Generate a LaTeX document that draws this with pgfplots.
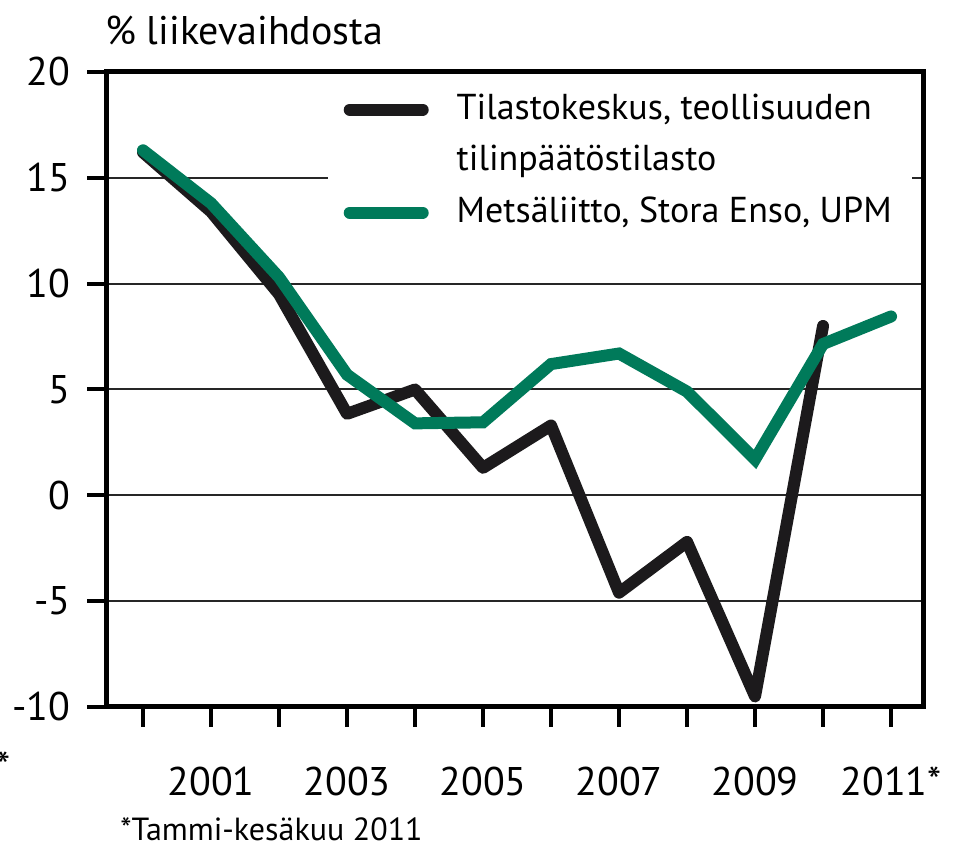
\documentclass[border=0pt]{standalone}
\usepackage{fontspec}
\setmainfont{PT Sans}
\usepackage{pgfplots}
\pgfplotsset{compat=1.18}
\definecolor{mgreen}{RGB}{0,122,90}
\definecolor{mblack}{RGB}{28,26,28}
\begin{document}
\fontsize{20}{24}\selectfont
\begin{tikzpicture}
\path[use as bounding box] (-53.5pt,-71.5pt) rectangle (423pt,353.5pt);
\begin{axis}[
  at={(0,0)}, anchor=south west,
  scale only axis, width=408pt, height=317.5pt,
  xmin=1999.47, xmax=2011.47, ymin=-10, ymax=20,
  axis line style={line width=2.5pt},
  tick align=outside,
  xtick pos=bottom, ytick pos=left,
  major tick length=10pt,
  tick style={line width=2pt, black},
  xtick={2000,2001,...,2011},
  xticklabels={,2001,,2003,,2005,,2007,,2009,,2011*},
  ytick={-10,-5,0,5,10,15,20},
  yticklabels={-10,-5,0,5,10,15,20},
  ymajorgrids,
  grid style={line width=1pt, black!85},
  ticklabel style={font=\fontsize{20}{24}\selectfont},
  xticklabel style={anchor=base, yshift=-34pt},
  yticklabel style={anchor=east, xshift=-1.5pt},
  legend style={at={(rel axis cs:0.27,0.985)}, anchor=north west, draw=none, fill=white,
    font=\fontsize{18}{22}\selectfont, row sep=6pt, inner xsep=8pt, inner ysep=4pt,
    /tikz/every odd column/.append style={column sep=12pt}},
  legend cell align=left,
  legend image code/.code={\draw[#1, line width=6pt, line cap=round] (0pt,0pt) -- (36.5pt,0pt);},
  clip=false,
]
\addplot[mblack, line width=6pt, line cap=round, line join=round] coordinates {
(2000,16.2) (2001,13.4) (2002,9.5) (2003,3.85) (2004,5.0) (2005,1.3)
(2006,3.3) (2007,-4.6) (2008,-2.2) (2009,-9.5) (2010,8.0)};
\addlegendentry{Tilastokeskus, teollisuuden}
\addlegendimage{empty legend}
\addlegendentry{tilinpäätöstilasto}
\addplot[mgreen, line width=6pt, line cap=round, line join=miter] coordinates {
(2000,16.3) (2001,13.8) (2002,10.3) (2003,5.7) (2004,3.4) (2005,3.45)
(2006,6.2) (2007,6.7) (2008,4.9) (2009,1.7) (2010,7.15) (2011,8.45)};
\addlegendentry{Metsäliitto, Stora Enso, UPM}
\end{axis}
\node[anchor=base west, inner sep=0pt] at (-1pt,331pt) {\% liikevaihdosta};
\node[anchor=base east, inner sep=0pt] at (-48pt,-37pt) {*};
\node[anchor=base west, inner sep=0pt, font=\fontsize{16}{20}\selectfont] at (6.5pt,-67pt) {*Tammi-kesäkuu 2011};
\end{tikzpicture}
\end{document}
